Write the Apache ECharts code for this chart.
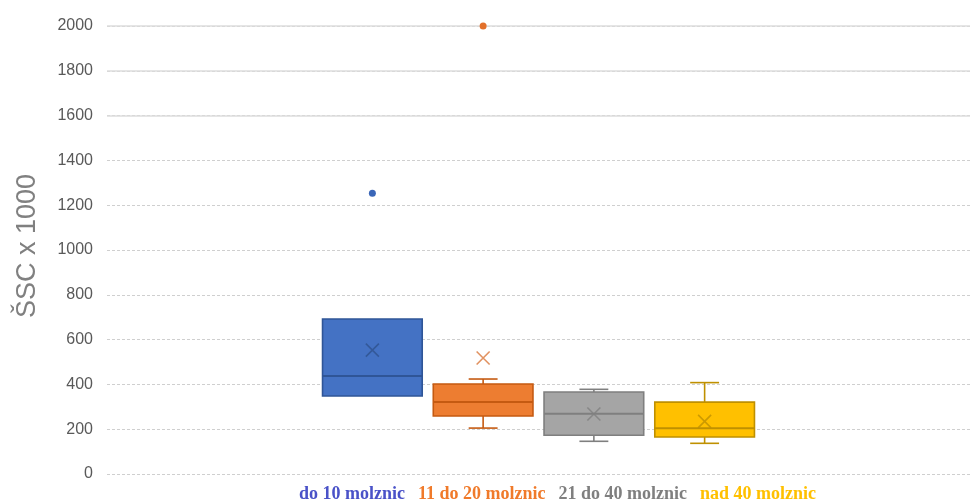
<!DOCTYPE html>
<html>
<head>
<meta charset="utf-8">
<script src="https://cdn.jsdelivr.net/npm/echarts@6/dist/echarts.min.js"></script>
<style>html,body{margin:0;padding:0;background:#fff}#c{width:970px;height:504px}</style>
</head>
<body>
<div id="c"></div>
<script>
// ---- data ----
const groups = ['do 10 molznic', '11 do 20 molznic', '21 do 40 molznic', 'nad 40 molznic'];
// [min, Q1, median, Q3, max]
const boxDo10 = [348, 348, 437, 692, 692];
const box11to20 = [205, 259, 321, 402, 424];
const box21to40 = [146, 173, 269, 366, 378];
const boxNad40 = [137, 165, 204, 321, 408];
const means = [553, 518, 268, 235];
const outliersDo10 = [1253];
const outliers11to20 = [2000];
const yTicks = { min: 0, max: 2000, interval: 200 };
const solidLinesFrom = 1600;

const fills = ['#4472C4', '#ED7D31', '#A5A5A5', '#FFC000'];
const strokes = ['#2F5597', '#C55A11', '#7F7F7F', '#BF9000'];
const textCols = ['#4A52C8', '#F07A2A', '#7F7F7F', '#FFC000'];
const boxes = [boxDo10, box11to20, box21to40, boxNad40];

function makeRender(i) {
  return function (params, api) {
    const x = api.value(0);
    const vMin = api.value(1), vQ1 = api.value(2), vQ3 = api.value(4), vMax = api.value(5);
    const pMin = api.coord([x, vMin]);
    const pQ1 = api.coord([x, vQ1]);
    const pMed = api.coord([x, api.value(3)]);
    const pQ3 = api.coord([x, vQ3]);
    const pMax = api.coord([x, vMax]);
    const band = api.size([1, 0])[0];
    const w = band * 0.9;
    const cap = w * 0.29;
    const cx = pMed[0];
    const ls = { stroke: strokes[i], lineWidth: 1.6, fill: null };
    const children = [];
    if (vMax > vQ3) {
      children.push({ type: 'line', shape: { x1: cx, y1: pMax[1], x2: cx, y2: pQ3[1] }, style: ls });
      children.push({ type: 'line', shape: { x1: cx - cap / 2, y1: pMax[1], x2: cx + cap / 2, y2: pMax[1] }, style: ls });
    }
    if (vMin < vQ1) {
      children.push({ type: 'line', shape: { x1: cx, y1: pMin[1], x2: cx, y2: pQ1[1] }, style: ls });
      children.push({ type: 'line', shape: { x1: cx - cap / 2, y1: pMin[1], x2: cx + cap / 2, y2: pMin[1] }, style: ls });
    }
    children.push({ type: 'rect', shape: { x: cx - w / 2, y: pQ3[1], width: w, height: pQ1[1] - pQ3[1] },
      style: { fill: fills[i], stroke: strokes[i], lineWidth: 1.6 } });
    children.push({ type: 'line', shape: { x1: cx - w / 2, y1: pMed[1], x2: cx + w / 2, y2: pMed[1] }, style: { stroke: strokes[i], lineWidth: 2 } });
    return { type: 'group', children: children };
  };
}

const boxSeries = boxes.map((b, i) => ({
  name: groups[i],
  type: 'custom',
  xAxisIndex: 1,
  yAxisIndex: 1,
  renderItem: makeRender(i),
  encode: { x: 0, y: [1, 2, 3, 4, 5] },
  data: [[i].concat(b)],
  z: 2
}));

const meanCols = ['#2F528F', '#D9773A', '#7F7F7F', '#BF9000'];
const meanSeries = {
  name: 'mean',
  type: 'scatter',
  xAxisIndex: 1,
  yAxisIndex: 1,
  symbol: 'path://M0,0L10,10M10,0L0,10',
  symbolSize: 13,
  z: 5,
  data: means.map((m, i) => ({ value: [i, m], itemStyle: { color: 'rgba(0,0,0,0)', borderColor: meanCols[i], borderWidth: 1.6 } }))
};
const outlierSeries = {
  name: 'outliers',
  type: 'scatter',
  xAxisIndex: 1,
  yAxisIndex: 1,
  symbol: 'circle',
  symbolSize: 7,
  z: 5,
  data: outliersDo10.map(v => ({ value: [0, v], itemStyle: { color: '#3A66B8', opacity: 1 } }))
    .concat(outliers11to20.map(v => ({ value: [1, v], itemStyle: { color: '#E2702A', opacity: 1 } })))
};

const chart = echarts.init(document.getElementById('c'), null, { renderer: 'canvas' });
chart.setOption({
  animation: false,
  backgroundColor: '#fff',
  grid: [
    { left: 107, right: 0, top: 26, bottom: 30 },
    { left: 317, width: 443, top: 26, bottom: 30 },
    { left: 107, right: 0, top: 26, height: 89.6 }
  ],
  xAxis: [
    { gridIndex: 0, type: 'category', data: [''], show: false },
    { gridIndex: 1, type: 'category', data: groups, show: false, boundaryGap: true },
    { gridIndex: 2, type: 'category', data: [''], show: false }
  ],
  yAxis: [
    {
      gridIndex: 0, type: 'value', min: yTicks.min, max: yTicks.max, interval: yTicks.interval,
      name: 'ŠSC x 1000', nameLocation: 'middle', nameGap: 66,
      nameTextStyle: { fontFamily: 'Liberation Sans', fontSize: 27, color: '#808080', padding: [0, 0, 0, 8] },
      axisLine: { show: false }, axisTick: { show: false },
      axisLabel: { fontFamily: 'Liberation Sans', fontSize: 16, color: '#595959', margin: 14, formatter: v => String(v) },
      splitLine: { lineStyle: { color: '#cfcfcf', type: [3, 2], width: 1 } }
    },
    { gridIndex: 1, type: 'value', min: yTicks.min, max: yTicks.max, interval: yTicks.interval, show: false, splitLine: { show: false } },
    {
      gridIndex: 2, type: 'value', min: solidLinesFrom, max: yTicks.max, interval: yTicks.interval,
      axisLine: { show: false }, axisTick: { show: false }, axisLabel: { show: false },
      splitLine: { lineStyle: { color: '#dcdcdc', type: 'solid', width: 1.5 } }
    }
  ],
  legend: {
    bottom: -4,
    left: 289,
    icon: 'none',
    itemWidth: 0,
    itemGap: 8,
    selectedMode: false,
    data: groups.map((g, i) => ({ name: g, textStyle: { color: textCols[i] } })),
    textStyle: { fontFamily: 'Liberation Serif', fontWeight: 'bold', fontSize: 18 }
  },
  series: boxSeries.concat([meanSeries, outlierSeries])
});
</script>
</body>
</html>
